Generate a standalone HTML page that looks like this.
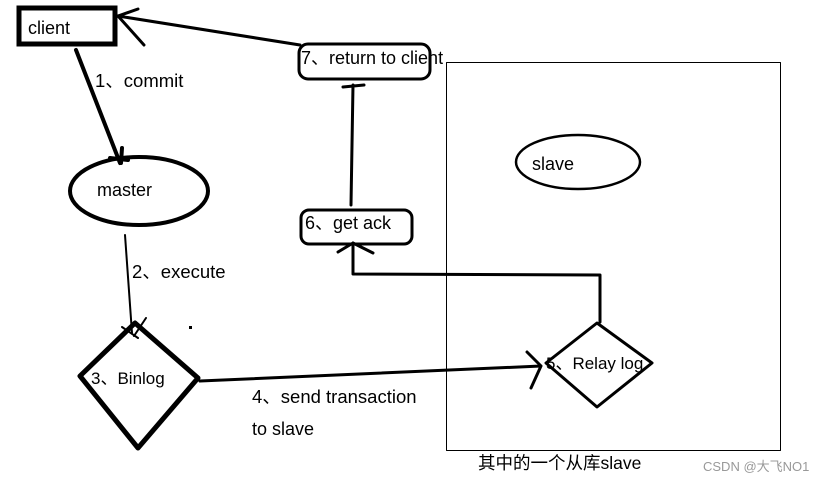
<!DOCTYPE html>
<html><head><meta charset="utf-8"><style>
html,body{margin:0;padding:0;background:#fff;width:832px;height:482px;overflow:hidden}
text{font-family:"Liberation Sans","Noto Sans CJK SC",sans-serif;fill:#000}
</style></head><body>
<svg width="832" height="482" viewBox="0 0 832 482" xmlns="http://www.w3.org/2000/svg">
<g fill="none" stroke="#000" stroke-linecap="round" stroke-linejoin="round">
<rect x="446.5" y="62.5" width="334" height="388" stroke-width="1"/>
<rect x="19" y="8" width="96" height="36" stroke-width="5" stroke-linejoin="miter"/>
<path d="M300 45 L118 16 M118 16 L138 9 M118 16 L144 45" stroke-width="3"/>
<rect x="299" y="44" width="131" height="35" rx="9" stroke-width="3"/>
<path d="M351 205 L353 85 M343 87 L364 85" stroke-width="3"/>
<rect x="301" y="210" width="111" height="34" rx="8" stroke-width="3"/>
<path d="M600 322 L600 275 L353 274 L353 245 M353 243 L338 252 M353 243 L373 253" stroke-width="3"/>
<ellipse cx="578" cy="162" rx="62" ry="27" stroke-width="2.5"/>
<path d="M76 50 L120 163 M110 158 L128 160 M122 148 L121 163" stroke-width="4"/>
<ellipse cx="139" cy="191" rx="69" ry="34" stroke-width="4"/>
<path d="M125 235 L132 333 M122 327 L138 338 M146 318 L134 336" stroke-width="2"/>
<path d="M135 323 L198 378 L138 448 L80 376 Z" stroke-width="5"/>
<path d="M200 381 L541 366 M527 352 L541 366 L531 388" stroke-width="3"/>
<path d="M597 323 L652 363 L597 407 L546 363 Z" stroke-width="3"/>
</g>
<rect x="189" y="326" width="3" height="3" fill="#000"/>
<text x="28" y="34" font-size="18">client</text>
<text x="301" y="64" font-size="18">7、return to client</text>
<text x="305" y="229" font-size="18">6、get ack</text>
<text x="532" y="170" font-size="18">slave</text>
<text x="95" y="87" font-size="18.5">1、commit</text>
<text x="97" y="196" font-size="18">master</text>
<text x="132" y="278" font-size="18.5">2、execute</text>
<text x="91" y="384" font-size="17">3、Binlog</text>
<text x="252" y="403" font-size="18.5">4、send transaction</text>
<text x="252" y="435" font-size="18">to slave</text>
<text x="546" y="369" font-size="17">5、Relay log</text>
<text x="478" y="469" font-size="17.5">其中的一个从库slave</text>
<text x="703" y="471" font-size="13" style="fill:#999">CSDN @大飞NO1</text>
</svg>
</body></html>
